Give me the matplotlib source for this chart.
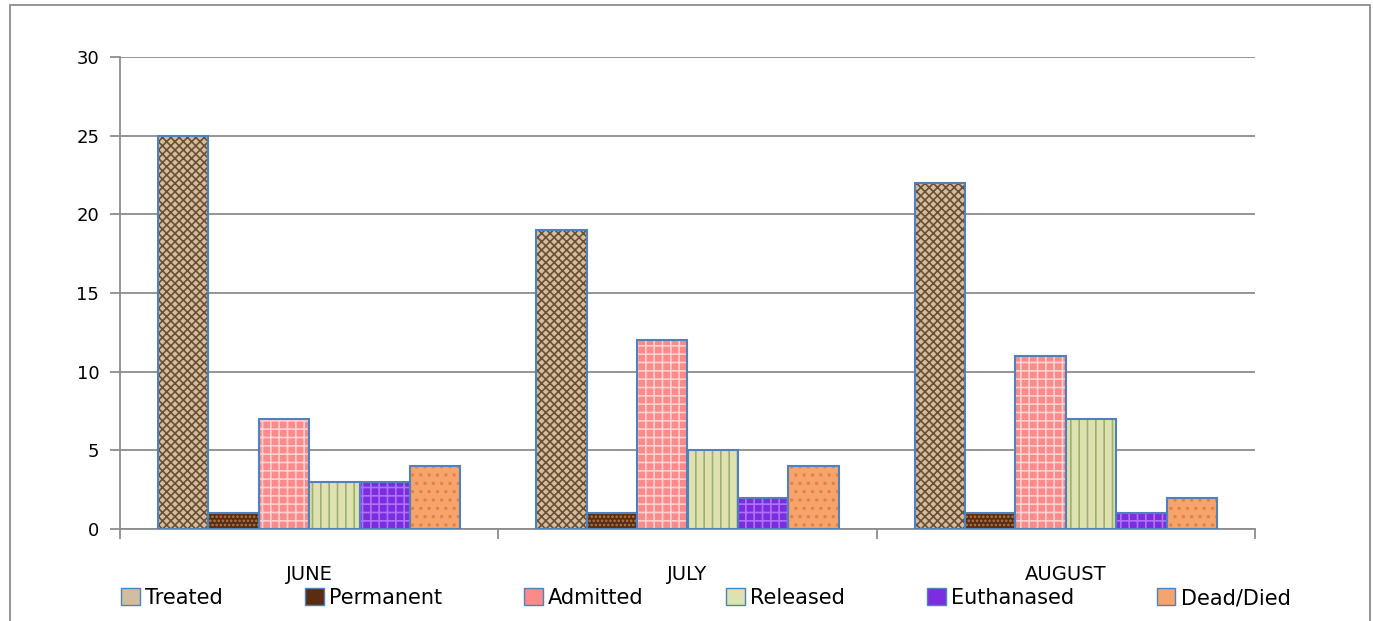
import matplotlib
matplotlib.use('Agg')
import matplotlib.pyplot as plt
from matplotlib.patches import Rectangle, Patch
import numpy as np

plt.rcParams['font.family'] = ['DejaVu Sans']
plt.rcParams['hatch.linewidth'] = 1.2

months = ['JUNE', 'JULY', 'AUGUST']
series = ['Treated', 'Permanent', 'Admitted', 'Released', 'Euthanased', 'Dead/Died']
treated = [25, 19, 22]
permanent = [1, 1, 1]
admitted = [7, 12, 11]
released = [3, 5, 7]
euthanased = [3, 2, 1]
dead = [4, 4, 2]
values = [treated, permanent, admitted, released, euthanased, dead]

# face colour, hatch colour, hatch pattern for each series
styles = [
    ('#d2bda2', '#6e4e30', 'xxxx'),
    ('#5a2c10', '#b07a50', '....'),
    ('#fb8a8a', '#ffd0d0', '++'),
    ('#dfe2b0', '#9bb26e', '||'),
    ('#7a2ee0', '#b070ff', '++'),
    ('#f4a46c', '#e8803a', '..'),
]
border = '#4f81bd'

fig = plt.figure(figsize=(13.73, 6.21), dpi=100)
ax = fig.add_axes([120 / 1373, 1 - 529 / 621, (1255 - 120) / 1373, (529 - 57) / 621])

w = 1 / 7.5
x = np.arange(len(months))
for i, (vals, (fc, hc, hatch)) in enumerate(zip(values, styles)):
    pos = x - 3 * w + w / 2 + i * w
    ax.bar(pos, vals, w, color=fc, edgecolor=hc, hatch=hatch, linewidth=0, zorder=3)
    ax.bar(pos, vals, w, fill=False, edgecolor=border, linewidth=1.5, zorder=4)

ax.set_xlim(-0.5, 2.5)
ax.set_ylim(0, 30)
ax.set_yticks(range(0, 31, 5))
ax.yaxis.grid(True, color='#8c8c8c', linewidth=1.3, zorder=0)
ax.set_axisbelow(True)
for s in ['top', 'right']:
    ax.spines[s].set_visible(False)
ax.spines['left'].set_color('#8c8c8c')
ax.spines['bottom'].set_color('#8c8c8c')
ax.spines['left'].set_linewidth(1.3)
ax.spines['bottom'].set_linewidth(1.3)

ax.set_xticks([-0.5, 0.5, 1.5, 2.5])
ax.set_xticklabels([])
ax.set_xticks(x, minor=True)
ax.set_xticklabels(months, minor=True, fontsize=14)
ax.tick_params(axis='x', which='major', length=7, color='#8c8c8c', width=1.3)
ax.tick_params(axis='x', which='minor', length=0, pad=26)
ax.tick_params(axis='y', length=7, color='#8c8c8c', width=1.3, labelsize=13, pad=8)

handles = [Patch(facecolor=fc, edgecolor=border, label=s) for s, (fc, hc, h) in zip(series, styles)]
fig.legend(handles=handles, loc='center', bbox_to_anchor=(0.514, 1 - 598 / 621), ncol=6,
           frameon=False, fontsize=15, handlelength=0.9, handleheight=0.9,
           handletextpad=0.25, columnspacing=3.95)

fig.patches.append(Rectangle((10 / 1373, -0.02), (1370 - 10) / 1373, 1.02 - 5 / 621,
                             transform=fig.transFigure, fill=False,
                             edgecolor='#8c8c8c', linewidth=1.3))

fig.savefig('out.png', dpi=100)
